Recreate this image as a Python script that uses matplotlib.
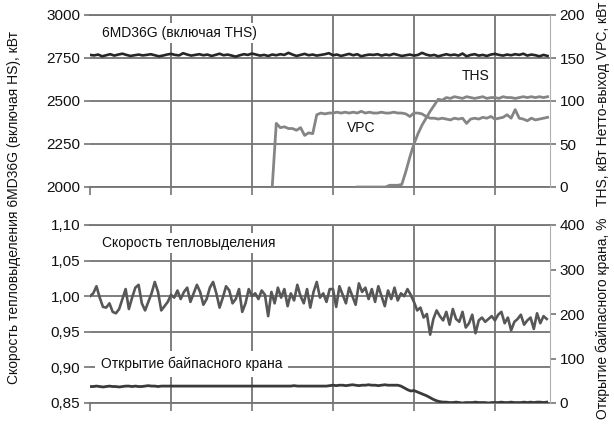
import numpy as np
import matplotlib

matplotlib.use("Agg")
import matplotlib.pyplot as plt  # noqa: E402

plt.rcParams["font.family"] = ["Liberation Sans Narrow", "Liberation Sans", "DejaVu Sans"]

# --- данные: верхняя панель (шаг 0,05) ---
dt_top = 0.05
p6md = [2768, 2765, 2770, 2760, 2766, 2772, 2764, 2770, 2775, 2768,
        2762, 2766, 2770, 2765, 2768, 2772, 2766, 2760, 2764, 2770,
        2774, 2768, 2765, 2778, 2770, 2764, 2768, 2772, 2766, 2770,
        2762, 2768, 2775, 2766, 2770, 2764, 2758, 2766, 2772, 2768,
        2776, 2770, 2764, 2768, 2762, 2770, 2766, 2772, 2768, 2780,
        2770, 2762, 2768, 2774, 2766, 2770, 2764, 2768, 2772, 2778,
        2766, 2770, 2762, 2768, 2774, 2766, 2772, 2760, 2766, 2770,
        2768, 2772, 2764, 2770, 2766, 2774, 2768, 2762, 2766, 2770,
        2764, 2768, 2780, 2770, 2764, 2768, 2760, 2766, 2772, 2766,
        2770, 2764, 2776, 2760, 2768, 2772, 2764, 2768, 2762, 2770,
        2774, 2768, 2764, 2770, 2766, 2772, 2768, 2775, 2764, 2770,
        2766, 2760, 2768, 2762]
vpc_start = 45
vpc = [0, 74, 69, 70, 68, 68, 66, 69, 60, 63,
       62, 84, 86, 85, 86, 86, 87, 86, 87, 86,
       87, 86, 88, 86, 87, 86, 86, 87, 86, 86,
       87, 86, 86, 85, 82, 86, 86, 85, 82, 80,
       80, 79, 80, 79, 78, 80, 79, 80, 74, 79,
       80, 79, 81, 80, 82, 79, 80, 81, 84, 80,
       90, 80, 79, 77, 80, 78, 79, 80, 81]
ths_start = 66
ths = [0, 0, 0, 0, 0, 0, 0, 0, 2, 2,
       2, 3, 18, 35, 50, 62, 72, 80, 88, 95,
       102, 101, 104, 103, 105, 104, 103, 105, 104, 103,
       104, 105, 103, 104, 104, 103, 105, 104, 104, 103,
       104, 105, 104, 105, 104, 105, 104, 105]

# --- данные: нижняя панель (шаг 0,04) ---
dt_bot = 0.04
heat = [1.000, 1.004, 1.014, 0.998, 0.985, 0.984, 0.990, 0.978, 0.976, 0.982,
        0.996, 1.010, 0.982, 0.998, 1.012, 1.016, 0.990, 0.980, 0.992, 1.004,
        1.020, 1.006, 0.980, 0.986, 0.992,
        1.002, 0.998, 1.008, 0.996, 1.006, 1.012, 0.992, 1.004, 1.016, 1.006,
        0.988, 0.996, 1.012, 1.020, 1.004, 0.984, 0.998, 1.014, 1.008, 0.990,
        0.996, 1.010, 0.978, 0.990, 1.010,
        1.000, 1.004, 0.996, 1.008, 1.002, 0.972, 1.006, 0.990, 1.012, 0.998,
        1.010, 0.986, 1.004, 0.994, 1.016, 1.000, 0.990, 1.010, 0.984, 1.006,
        1.020, 0.998, 1.004, 0.992, 1.010,
        1.010, 0.985, 1.014, 1.002, 0.990, 1.012, 1.000, 0.988, 1.018, 1.006,
        1.012, 0.996, 1.010, 0.992, 1.014, 1.000, 0.986, 1.008, 0.996, 1.012,
        0.994, 1.004, 1.000, 1.010, 1.002,
        0.992, 0.980, 0.984, 0.970, 0.975, 0.946, 0.968, 0.980, 0.972, 0.966,
        0.978, 0.960, 0.982, 0.968, 0.964, 0.978, 0.956, 0.962, 0.974, 0.948,
        0.966, 0.970, 0.964, 0.968, 0.972,
        0.966, 0.974, 0.978, 0.962, 0.970, 0.952, 0.964, 0.968, 0.974, 0.960,
        0.966, 0.970, 0.954, 0.976, 0.962, 0.972, 0.968]
bypass = [37, 37, 38, 37, 36, 37, 38, 37, 37, 36, 37, 38, 38, 37, 38, 37, 37, 38, 39, 38,
          38, 37, 38, 38, 38,
          38, 38, 38, 38, 38, 38, 38, 38, 38, 38, 38, 38, 38, 38, 38, 38, 38, 38, 38, 38,
          38, 38, 38, 38, 38,
          38, 38, 38, 38, 38, 38, 38, 38, 38, 38, 38, 38, 38, 39, 38, 38, 38, 38, 38, 38,
          38, 38, 38, 38, 39,
          40, 39, 40, 40, 39, 40, 41, 40, 39, 40, 40, 41, 40, 40, 39, 40, 41, 40, 40, 40,
          40, 38, 34, 30, 27,
          28, 25, 22, 19, 16, 12, 8, 5, 3, 2, 2, 1, 1, 2, 1, 0, 1, 1, 1, 2,
          1, 1, 1, 0, 1,
          1, 1, 2, 1, 1, 2, 1, 1, 1, 2, 1, 2, 1, 2, 2, 1, 2]

left_ticks_top = [2000, 2250, 2500, 2750, 3000]
right_ticks_top = [0, 50, 100, 150, 200]
left_ticks_bot = [0.85, 0.90, 0.95, 1.00, 1.05, 1.10]
left_labels_bot = ["0,85", "0,90", "0,95", "1,00", "1,05", "1,10"]
right_ticks_bot = [0, 100, 200, 300, 400]
x_ticks = [0, 1, 2, 3, 4, 5]

GRID = "#747474"
TXT = "#111111"
FS_TICK = 11
FS_IN = 10
FS_LAB = 10

t_top = np.arange(len(p6md)) * dt_top
t_vpc = (vpc_start + np.arange(len(vpc))) * dt_top
t_ths = (ths_start + np.arange(len(ths))) * dt_top
t_bot = np.arange(len(heat)) * dt_bot

fig = plt.figure(figsize=(6.14, 4.32), dpi=100)
ax1 = fig.add_axes([90 / 614, 1 - 187 / 432, 460 / 614, 172 / 432])
ax2 = fig.add_axes([90 / 614, 1 - 403 / 432, 460 / 614, 178 / 432])
ax1r = ax1.twinx()
ax2r = ax2.twinx()


def style(ax, axr):
    ax.set_xlim(0, 5.68)
    ax.set_xticks(x_ticks)
    ax.set_xticklabels([])
    ax.grid(True, color=GRID, linewidth=1.3)
    ax.set_axisbelow(True)
    ax.xaxis.get_gridlines()[0].set_visible(False)
    ax.tick_params(axis="x", direction="out", length=6, width=1.2, color=GRID)
    ax.tick_params(axis="y", direction="out", length=4, width=1.2, color=GRID,
                   labelsize=FS_TICK, labelcolor=TXT, pad=3)
    axr.tick_params(axis="y", direction="out", length=4, width=1.2, color=GRID,
                    labelsize=FS_TICK, labelcolor=TXT, pad=3)
    for s in ("left", "right"):
        ax.spines[s].set_visible(False)
    for s in ("top", "bottom"):
        ax.spines[s].set_color(GRID)
        ax.spines[s].set_linewidth(1.3)
    for s in ("left", "top", "bottom"):
        axr.spines[s].set_visible(False)
    axr.spines["right"].set_color("#b0b0b0")
    axr.spines["right"].set_linewidth(0.8)


style(ax1, ax1r)
style(ax2, ax2r)

box = dict(facecolor="white", edgecolor="none", pad=2)

# верхняя панель
ax1.set_ylim(2000, 3000)
ax1.set_yticks(left_ticks_top)
ax1r.set_ylim(0, 200)
ax1r.set_yticks(right_ticks_top)
ax1.plot(t_top, p6md, color="#262626", lw=1.9, zorder=3)
ax1r.plot(t_vpc, vpc, color="#858585", lw=2.0, zorder=3)
ax1r.plot(t_ths, ths, color="#858585", lw=2.0, zorder=3)
fig.text(102 / 614, 1 - 33 / 432, "6MD36G (включая THS)", fontsize=FS_IN, color=TXT,
         va="center", bbox=box)
fig.text(462 / 614, 1 - 76 / 432, "THS", fontsize=FS_IN, color=TXT, va="center")
fig.text(347 / 614, 1 - 128 / 432, "VPC", fontsize=FS_IN, color=TXT, va="center")

# нижняя панель
ax2.set_ylim(0.85, 1.10)
ax2.set_yticks(left_ticks_bot)
ax2.set_yticklabels(left_labels_bot)
ax2r.set_ylim(0, 400)
ax2r.set_yticks(right_ticks_bot)
ax2.plot(t_bot, heat, color="#575757", lw=1.9, zorder=3)
ax2r.plot(t_bot, bypass, color="#3a3a3a", lw=2.0, zorder=3)
fig.text(102 / 614, 1 - 243 / 432, "Скорость тепловыделения", fontsize=FS_IN, color=TXT,
         va="center", bbox=box)
fig.text(101 / 614, 1 - 364 / 432, "Открытие байпасного крана", fontsize=FS_IN, color=TXT,
         va="center", bbox=dict(facecolor="white", edgecolor="none", pad=4))

# подписи осей
fig.text(14 / 614, 1 - 208 / 432, "Скорость тепловыделения 6MD36G (включая HS), кВт",
         rotation=90, fontsize=FS_LAB, color=TXT, ha="center", va="center")
fig.text(603 / 614, 1 - 104 / 432, "THS, кВт Нетто-выход VPC, кВт",
         rotation=90, fontsize=FS_LAB, color=TXT, ha="center", va="center")
fig.text(603 / 614, 1 - 318 / 432, "Открытие байпасного крана, %",
         rotation=90, fontsize=FS_LAB, color=TXT, ha="center", va="center")

fig.savefig("out.png", dpi=100)
